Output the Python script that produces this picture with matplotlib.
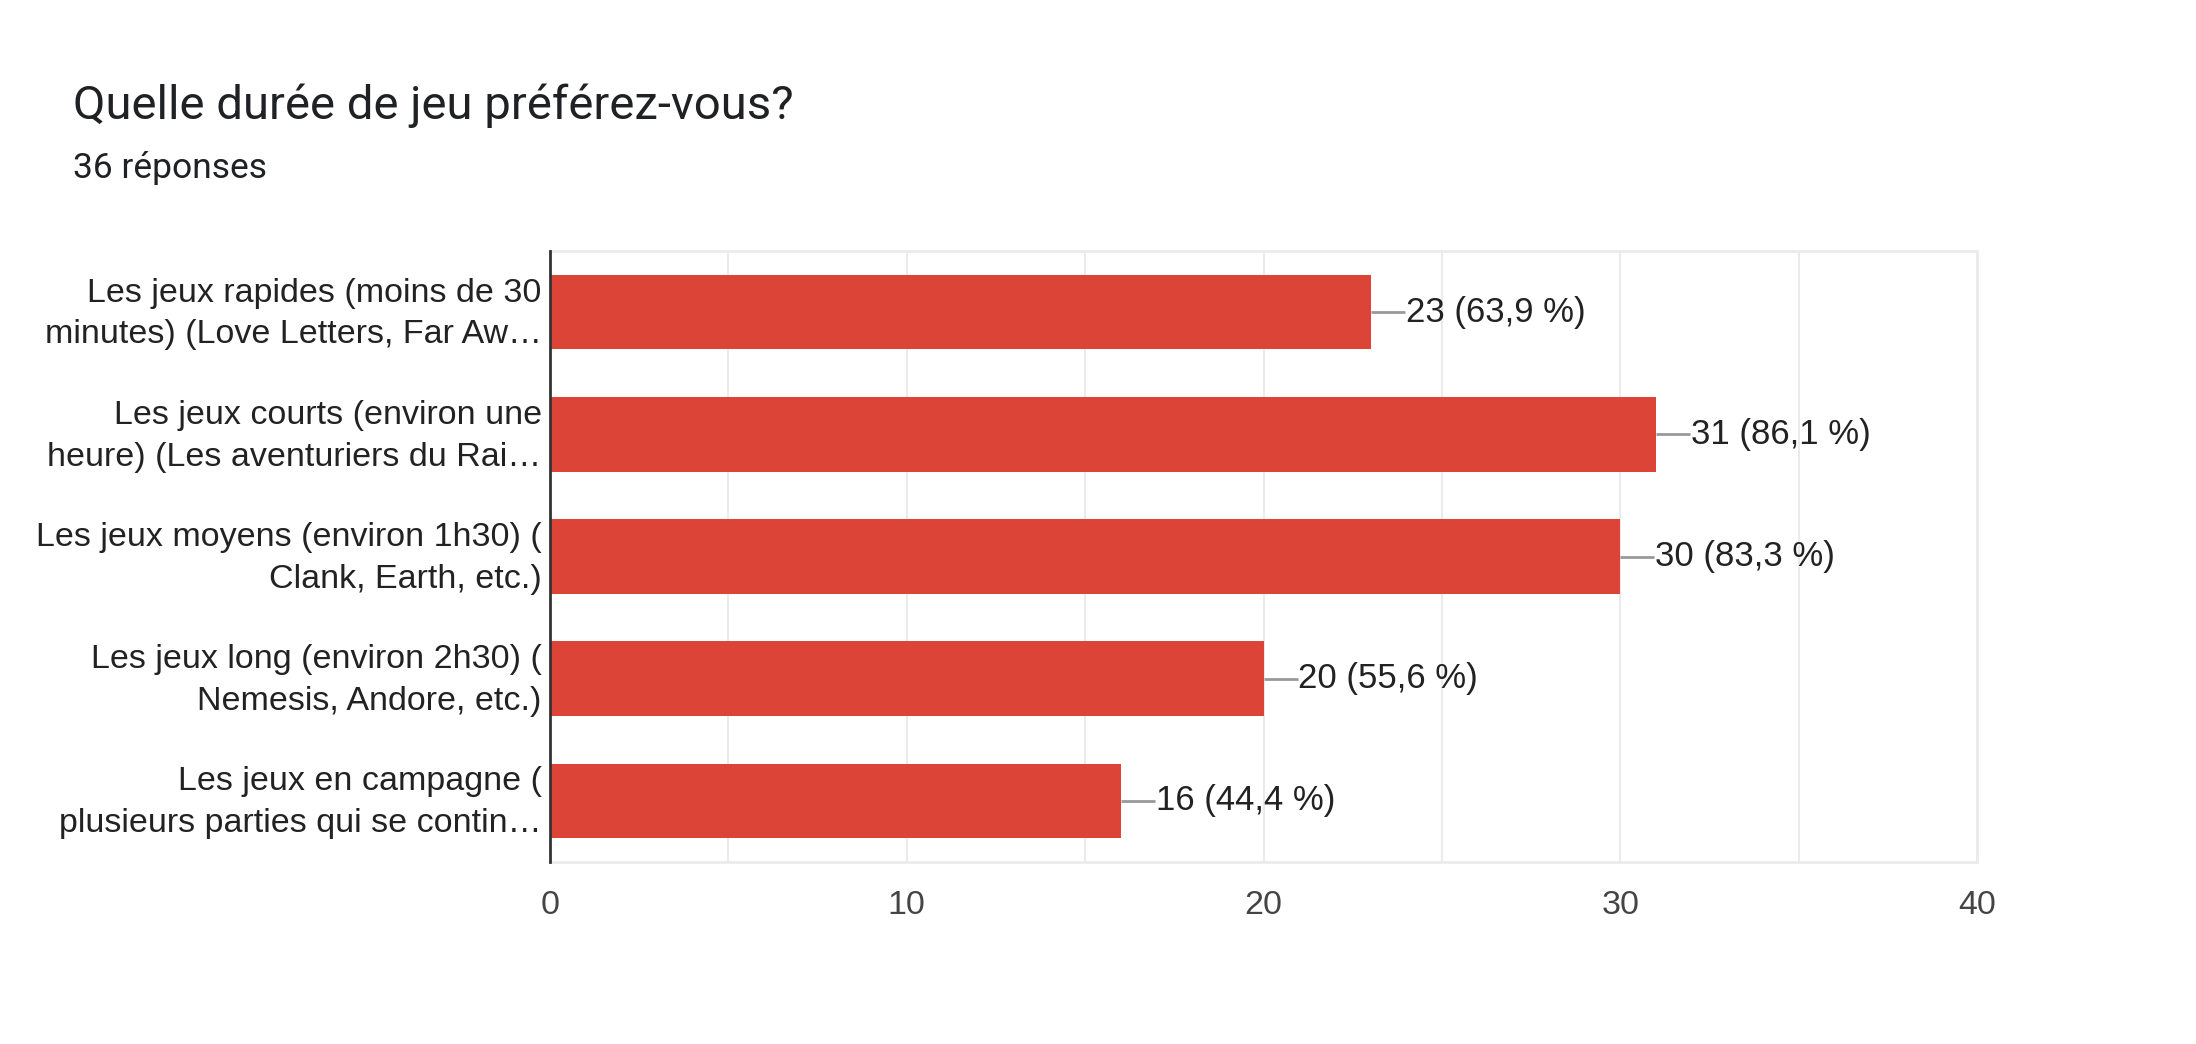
import matplotlib
matplotlib.use("Agg")
import matplotlib.pyplot as plt
import matplotlib.transforms as mtransforms
from matplotlib.ticker import MultipleLocator

title = "Quelle durée de jeu préférez-vous?"
subtitle = "36 réponses"
categories = [
    "Les jeux rapides (moins de 30\nminutes) (Love Letters, Far Aw…",
    "Les jeux courts (environ une\nheure) (Les aventuriers du Rai…",
    "Les jeux moyens (environ 1h30) (\nClank, Earth, etc.)",
    "Les jeux long (environ 2h30) (\nNemesis, Andore, etc.)",
    "Les jeux en campagne (\nplusieurs parties qui se contin…",
]
counts = [23, 31, 30, 20, 16]
percents = ["63,9", "86,1", "83,3", "55,6", "44,4"]
xticks = [0, 10, 20, 30, 40]

W, H = 2196, 1044
fig = plt.figure(figsize=(W / 100, H / 100), dpi=100)
fig.patch.set_facecolor("white")

ax = fig.add_axes([550 / W, 1 - 862 / H, (1977 - 550) / W, (862 - 251) / H])
y = list(range(len(categories)))
ax.barh(y, counts, height=0.61, color="#db4437", zorder=3)
ax.set_ylim(len(categories) - 0.5, -0.5)
ax.set_xlim(0, 40)
ax.set_yticks(y)
ax.set_yticklabels(categories, fontsize=24.5, family="Liberation Sans", color="#222222",
                   linespacing=1.45)
ax.set_xticks(xticks)
ax.set_xticklabels([str(t) for t in xticks], fontsize=24.5, family="Liberation Sans", color="#444444")
ax.xaxis.set_minor_locator(MultipleLocator(5))
ax.grid(True, axis="x", which="both", color="#ebebeb", linewidth=1.5, zorder=0)
ax.tick_params(axis="both", which="both", length=0)
ax.tick_params(axis="y", pad=6)
ax.tick_params(axis="x", pad=20)
for side in ("top", "right", "bottom"):
    ax.spines[side].set_color("#ebebeb")
    ax.spines[side].set_linewidth(2)
ax.spines["left"].set_color("#333333")
ax.spines["left"].set_linewidth(2)
ax.spines["left"].set_zorder(4)

# nudge category labels up slightly
offset = mtransforms.ScaledTranslation(0, 7 / 100, fig.dpi_scale_trans)
for lbl in ax.get_yticklabels():
    lbl.set_transform(lbl.get_transform() + offset)

# leader lines and value labels
unit_px = (1977 - 550) / 40.0
for i, (c, p) in enumerate(zip(counts, percents)):
    x_end = c + 34 / unit_px
    ax.plot([c, x_end], [i, i], color="#999999", linewidth=2, zorder=2, solid_capstyle="butt")
    ax.text(x_end + 1 / unit_px, i, f"{c} ({p} %)", va="center", ha="left", fontsize=25,
            family="Liberation Sans", color="#222222")

fig.text(73 / W, 1 - 106 / H, title, fontsize=34, family="Roboto", color="#202124", va="center")
fig.text(73 / W, 1 - 168 / H, subtitle, fontsize=25.5, family="Roboto", color="#202124", va="center")

fig.savefig("out.png", dpi=100, facecolor="white")
